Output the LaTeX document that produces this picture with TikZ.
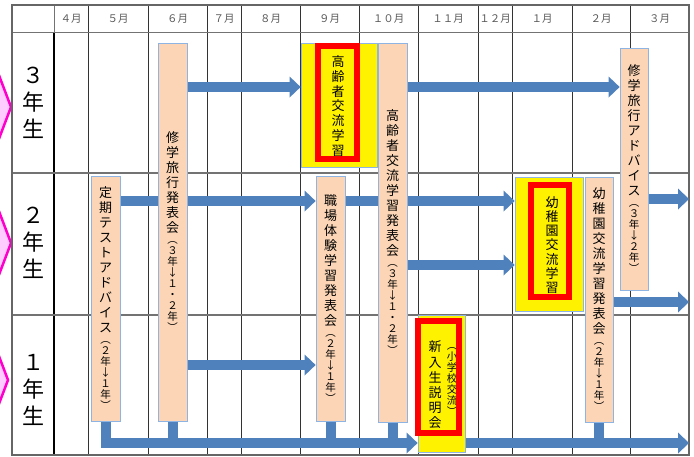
\documentclass[tikz,border=0pt]{standalone}
\usepackage{fontspec}
\setmainfont{Noto Sans CJK JP}
\usetikzlibrary{arrows.meta}
\definecolor{peach}{HTML}{FBD5B5}
\definecolor{boxline}{HTML}{8DB4E2}
\definecolor{arrowblue}{HTML}{4F81BD}
\definecolor{chevfill}{HTML}{FFCCFF}
\definecolor{chevline}{HTML}{FF00CC}
\pgfdeclarelayer{gridlayer}
\pgfdeclarelayer{arrowlayer}
\pgfsetlayers{gridlayer,arrowlayer,main}
\makeatletter
\def\vst@end{\vst@end}
\def\vst@loop#1{\ifx#1\vst@end\else\hbox to 24pt{\hss#1\hss}\expandafter\vst@loop\fi}
\newcommand{\vst}[1]{\vst@loop#1\vst@end}
\makeatother
\newcommand{\vlabel}[2]{\vbox{\fontsize{13}{15}\selectfont\baselineskip=15pt\lineskiplimit=-100pt\lineskip=0pt\vst{#1}\fontsize{10.5}{11}\selectfont\baselineskip=11pt\vst{#2}}}
\newcommand{\vmain}[3]{\vbox{\fontsize{#1}{#2}\selectfont\baselineskip=#2pt\lineskiplimit=-100pt\lineskip=0pt\vst{#3}}}
\tikzset{
  peachbox/.style={draw=boxline, fill=peach, line width=0.8pt, inner sep=0pt},
  yelbox/.style={draw=boxline, fill=yellow, line width=0.8pt, inner sep=0pt},
  redbox/.style={draw=red, line width=6pt, inner sep=0pt},
  plain/.style={inner sep=0pt},
  hdr/.style={inner sep=0pt, text=black!65, font=\fontsize{10.5}{12}\selectfont},
  barrow/.style={draw=arrowblue, line width=10pt, -{Triangle[width=21pt,length=11pt,line width=0pt]}},
  bline/.style={draw=arrowblue, line width=10pt},
  gridv/.style={draw=black!80, line width=0.8pt},
  gridh/.style={draw=black!55, line width=1.2pt},
  chev/.style={draw=chevline, fill=chevfill, line width=2.5pt, line join=miter},
}
\begin{document}
\begin{tikzpicture}[x=1pt,y=-1pt]
\useasboundingbox (0,0) rectangle (694,456);
% ---------- grid ----------
\begin{pgfonlayer}{gridlayer}
\fill[white] (0,0) rectangle (694,456);
\begin{scope}
\clip (0,0) rectangle (694,456);
\draw[chev] (-40,70) -- (-3,70) -- (11,107) -- (-3,144) -- (-40,144) -- cycle;
\draw[chev] (-40,206) -- (-3,206) -- (11,243) -- (-3,280) -- (-40,280) -- cycle;
\draw[chev] (-40,343) -- (-6,343) -- (8,380) -- (-6,417) -- (-40,417) -- cycle;
\end{scope}
\foreach \x in {88,148,207,241,300,359,418,478,512,572,630}
  \draw[gridv] (\x,5) -- (\x,455);
\draw[draw=black!55, line width=0.8pt] (54,5) -- (54,32);
\draw[black, line width=1.1pt] (54,32) -- (54,455);
\draw[draw=black!55, line width=0.9pt] (12,32) -- (689,32);
\draw[gridh] (12,173) -- (689,173);
\draw[gridh] (12,315) -- (689,315);
\draw[draw=black!60, line width=1.5pt] (12,5) rectangle (689,455);
\foreach \x/\t/\n in {71/４月/m4, 118/５月/m5, 177.5/６月/m6, 224/７月/m7, 270.5/８月/m8, 329.5/９月/m9, 388.5/１０月/m10, 448/１１月/m11, 495/１２月/m12, 542/１月/m1, 601/２月/m2, 659.5/３月/m3}
  \node[hdr] (\n) at (\x,18.5) {\t};
\node[plain] (g3) at (33,103) {\vmain{22}{27}{３年生}};
\node[plain] (g2) at (33,243) {\vmain{22}{27}{２年生}};
\node[plain] (g1) at (33,390) {\vmain{22}{27}{１年生}};
\end{pgfonlayer}
% ---------- boxes ----------
\node[peachbox, minimum width=29pt, minimum height=378pt] (shugaku) at (172.5,232) {\vlabel{修学旅行発表会}{︵３年↓１・２年︶}};
\node[peachbox, minimum width=29pt, minimum height=245pt] (teiki) at (105.5,298.5) {\vlabel{定期テストアドバイス}{︵２年↓１年︶}};
\node[peachbox, minimum width=29pt, minimum height=245pt] (shokuba) at (330.5,298.5) {\vlabel{職場体験学習発表会}{︵２年↓１年︶}};
\node[peachbox, minimum width=29pt, minimum height=379pt] (koureiH) at (392.5,232.5) {\vlabel{高齢者交流学習発表会}{︵３年↓１・２年︶}};
\node[peachbox, minimum width=28pt, minimum height=242pt] (shugakuAdv) at (634,169) {\vlabel{修学旅行アドバイス}{︵３年↓２年︶}};
\node[peachbox, minimum width=28pt, minimum height=245pt] (youchiH) at (599,299.5) {\vlabel{幼稚園交流学習発表会}{︵２年↓１年︶}};
% yellow highlighted boxes
\node[yelbox, minimum width=76pt, minimum height=124pt] (koureiY) at (339,105) {};
\node[plain] (koureiT) at (338,106) {\vmain{13}{14.7}{高齢者交流学習}};
\node[redbox, minimum width=39pt, minimum height=113pt] (koureiR) at (337.5,102) {};
\node[yelbox, minimum width=68pt, minimum height=134pt] (youchiY) at (549,244) {};
\node[plain] (youchiT) at (552,245) {\vmain{13}{14.3}{幼稚園交流学習}};
\node[redbox, minimum width=38pt, minimum height=112pt] (youchiR) at (550,241) {};
\node[yelbox, minimum width=47pt, minimum height=137pt] (shinnyuY) at (441.5,383.5) {};
\node[plain] (shinnyuT) at (435,385) {\vmain{13}{15.2}{新入生説明会}};
\node[plain] (shinnyuS) at (452,382) {\vmain{10.5}{11}{︵小学校交流︶}};
\node[redbox, minimum width=41pt, minimum height=112pt] (shinnyuR) at (438.5,377) {};
% ---------- arrows ----------
\coordinate (y3) at (0,87);
\coordinate (y2a) at (0,201);
\coordinate (y2b) at (0,265);
\coordinate (y1) at (0,365);
\coordinate (ybar) at (0,443);
\coordinate (e1) at (689,199);
\coordinate (e2) at (689,302);
\coordinate (e3) at (689,443);
\begin{pgfonlayer}{arrowlayer}
\draw[barrow] (shugaku.east |- y3) -- (koureiY.west |- y3);
\draw[barrow] (koureiH.east |- y3) -- (shugakuAdv.west |- y3);
\draw[barrow] (teiki.east |- y2a) -- (shokuba.west |- y2a);
\draw[barrow] (shokuba.east |- y2a) -- (youchiY.west |- y2a);
\draw[barrow] (koureiH.east |- y2b) -- (youchiY.west |- y2b);
\draw[barrow] (shugakuAdv.east |- e1) -- (e1);
\draw[barrow] (youchiH.east |- e2) -- (e2);
\draw[barrow] (shugaku.east |- y1) -- (shokuba.west |- y1);
\draw[barrow, line join=miter] (teiki.south) -- (teiki.south |- ybar) -- (shinnyuY.west |- ybar);
\draw[bline] (shugaku.south) -- (shugaku.south |- ybar);
\draw[bline] (shokuba.south) -- (shokuba.south |- ybar);
\draw[bline] (koureiH.south) -- (koureiH.south |- ybar);
\draw[barrow] (shinnyuY.east |- ybar) -- (e3);
\draw[bline] (youchiH.south) -- (youchiH.south |- ybar);
\end{pgfonlayer}
\end{tikzpicture}
\end{document}
